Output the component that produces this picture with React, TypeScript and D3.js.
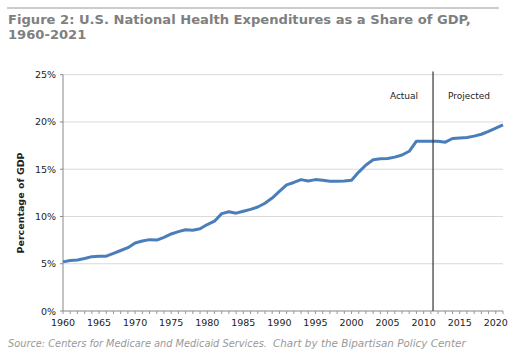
import React from "react";
import * as d3 from "d3";

const years: number[] = d3.range(1960, 2022);
const shares: number[] = [
  5.2, 5.35, 5.4, 5.55, 5.75, 5.8, 5.8, 6.1, 6.4, 6.7,
  7.2, 7.4, 7.55, 7.5, 7.8, 8.15, 8.4, 8.6, 8.55, 8.7,
  9.15, 9.5, 10.3, 10.5, 10.35, 10.55, 10.75, 11.0, 11.4, 11.95,
  12.65, 13.35, 13.6, 13.9, 13.75, 13.9, 13.83, 13.73, 13.73, 13.75,
  13.83, 14.7, 15.45, 16.0, 16.1, 16.14, 16.28, 16.5, 16.9, 17.97,
  17.97, 17.97, 17.97, 17.86, 18.25, 18.3, 18.36, 18.5, 18.7, 19.0,
  19.35, 19.7,
];
const yTicks: number[] = [0, 5, 10, 15, 20, 25];
const xLabelYears: number[] = [1960, 1965, 1970, 1975, 1980, 1985, 1990, 1995, 2000, 2005, 2010, 2015, 2020];
const dividerYear = 2011.3;
const titleLines: string[] = [
  "Figure 2: U.S. National Health Expenditures as a Share of GDP,",
  "1960-2021",
];
const sourceText = "Source: Centers for Medicare and Medicaid Services.";
const creditText = "Chart by the Bipartisan Policy Center";

export default function App() {
  const W = 512, H = 357;
  const left = 63, right = 503, top = 74.7, bottom = 311;
  const x = d3.scaleLinear().domain([1960, 2021]).range([left, right]);
  const y = d3.scaleLinear().domain([0, 25]).range([bottom, top]);
  const line = d3
    .line<number>()
    .x((_, i) => x(years[i]))
    .y((d) => y(d))
    .curve(d3.curveLinear);
  const font = "Verdana, 'DejaVu Sans', sans-serif";

  return (
    <svg
      width={W}
      height={H}
      style={{ position: "absolute", left: 0, top: 0, background: "#fff" }}
      fontFamily={font}
    >
      <line x1={7} x2={499} y1={8} y2={8} stroke="#999" strokeWidth={1} />
      {titleLines.map((t, i) => (
        <text key={i} x={8} y={24 + i * 15} fontSize={13.1} fontWeight="bold" fill="#7f7f7f">
          {t}
        </text>
      ))}
      {yTicks.map((t) => (
        <g key={t}>
          {t > 0 && (
            <line x1={left} x2={right} y1={y(t)} y2={y(t)} stroke="#d9d9d9" strokeWidth={1} />
          )}
          <line x1={left - 3} x2={left} y1={y(t)} y2={y(t)} stroke="#888" />
          <text x={56} y={y(t) + 3.5} fontSize={9.5} textAnchor="end" fill="#222">
            {t}%
          </text>
        </g>
      ))}
      <line x1={left} x2={left} y1={top} y2={bottom} stroke="#888" />
      <line x1={left} x2={right} y1={bottom} y2={bottom} stroke="#888" />
      {years.map((yr) => (
        <line key={yr} x1={x(yr)} x2={x(yr)} y1={bottom} y2={bottom + 3} stroke="#999" />
      ))}
      {xLabelYears.map((yr) => (
        <text key={yr} x={x(yr)} y={326} fontSize={9.5} textAnchor="middle" fill="#222">
          {yr}
        </text>
      ))}
      <text
        transform={`translate(24,203) rotate(-90)`}
        fontSize={9.5}
        fontWeight="bold"
        textAnchor="middle"
        fill="#222"
      >
        Percentage of GDP
      </text>
      <path d={line(shares) || ""} fill="none" stroke="#4a7ebb" strokeWidth={3} strokeLinejoin="round" />
      <line
        x1={x(dividerYear)}
        x2={x(dividerYear)}
        y1={71.5}
        y2={bottom}
        stroke="#333"
        strokeWidth={1.2}
      />
      <text x={404} y={99} fontSize={9} textAnchor="middle" fill="#222">
        Actual
      </text>
      <text x={469} y={99} fontSize={9} textAnchor="middle" fill="#222">
        Projected
      </text>
      <text x={8} y={347} fontSize={9.8} fontStyle="italic" fill="#999">
        {sourceText}
      </text>
      <text x={273} y={347} fontSize={10.4} fontStyle="italic" fill="#999">
        {creditText}
      </text>
    </svg>
  );
}
